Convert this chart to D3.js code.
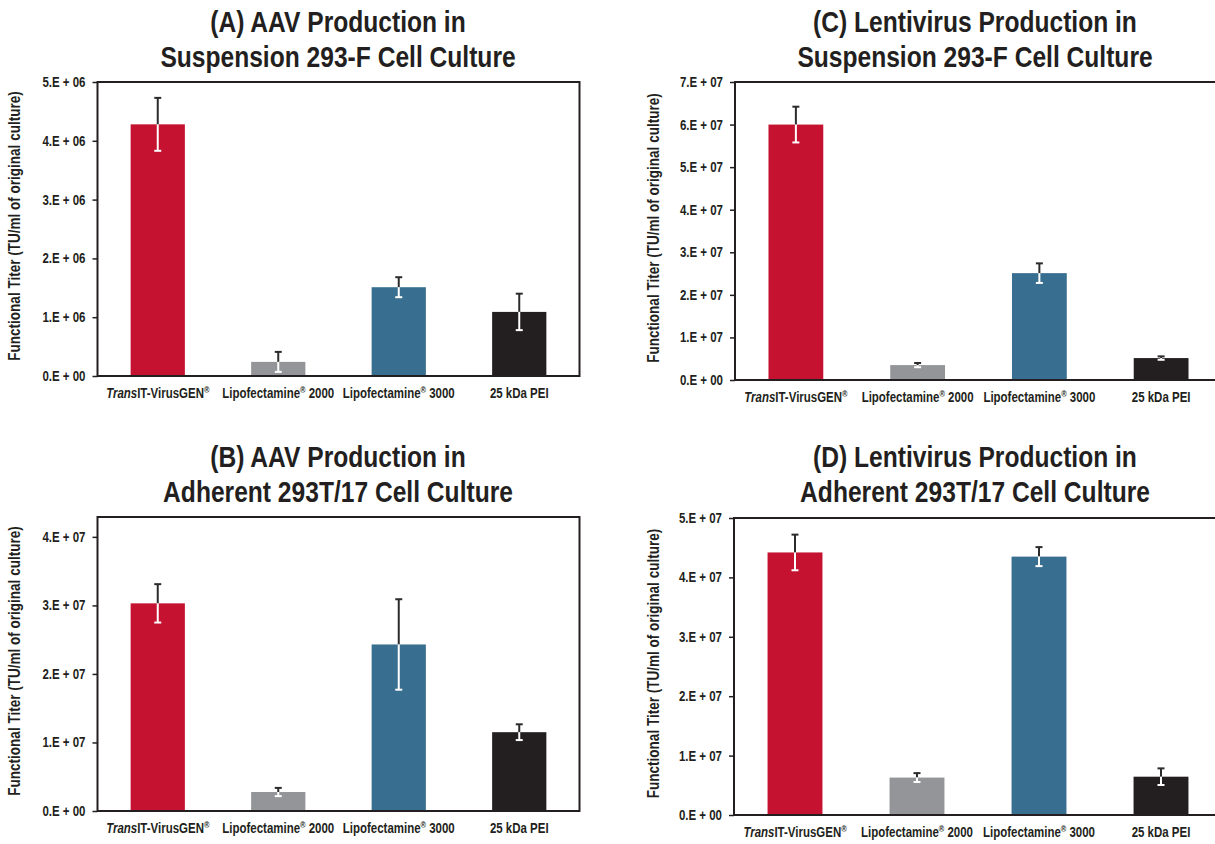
<!DOCTYPE html>
<html>
<head>
<meta charset="utf-8">
<script src="https://cdn.jsdelivr.net/npm/d3@7"></script>
<style>
  body { margin: 0; background: #fff; }
  svg text { font-family: "Liberation Sans", Arial, Helvetica, sans-serif; font-weight: bold; fill: #231f20; }
</style>
</head>
<body>
<div id="chart"></div>
<script>
const categories = ["TransIT-VirusGEN®", "Lipofectamine® 2000", "Lipofectamine® 3000", "25 kDa PEI"];
const barColors = ["#c41230", "#939598", "#386e8f", "#231f20"];

// (A) AAV, suspension 293-F
const aavSuspensionValues = [4.28e6, 0.24e6, 1.51e6, 1.09e6];
const aavSuspensionErrors = [0.45e6, 0.17e6, 0.17e6, 0.31e6];
const aavSuspensionTicks = [0, 1e6, 2e6, 3e6, 4e6, 5e6];
const aavSuspensionTickLabels = ["0.E + 00", "1.E + 06", "2.E + 06", "3.E + 06", "4.E + 06", "5.E + 06"];

// (B) AAV, adherent 293T/17
const aavAdherentValues = [3.03e7, 0.277e7, 2.43e7, 1.15e7];
const aavAdherentErrors = [0.28e7, 0.06e7, 0.66e7, 0.115e7];
const aavAdherentTicks = [0, 1e7, 2e7, 3e7, 4e7];
const aavAdherentTickLabels = ["0.E + 00", "1.E + 07", "2.E + 07", "3.E + 07", "4.E + 07"];

// (C) Lentivirus, suspension 293-F
const lentiSuspensionValues = [6.0e7, 0.35e7, 2.51e7, 0.515e7];
const lentiSuspensionErrors = [0.42e7, 0.05e7, 0.23e7, 0.04e7];
const lentiSuspensionTicks = [0, 1e7, 2e7, 3e7, 4e7, 5e7, 6e7, 7e7];
const lentiSuspensionTickLabels = ["0.E + 00", "1.E + 07", "2.E + 07", "3.E + 07", "4.E + 07", "5.E + 07", "6.E + 07", "7.E + 07"];

// (D) Lentivirus, adherent 293T/17
const lentiAdherentValues = [4.42e7, 0.63e7, 4.35e7, 0.645e7];
const lentiAdherentErrors = [0.30e7, 0.075e7, 0.16e7, 0.14e7];
const lentiAdherentTicks = [0, 1e7, 2e7, 3e7, 4e7, 5e7];
const lentiAdherentTickLabels = ["0.E + 00", "1.E + 07", "2.E + 07", "3.E + 07", "4.E + 07", "5.E + 07"];

const yTitle = "Functional Titer (TU/ml of original culture)";

const width = 1215;
const height = 844;
const narrow = 0.82; // squeeze Liberation Sans to look like a narrow face

const svg = d3.select("#chart").append("svg")
    .attr("width", width)
    .attr("height", height);

const panels = [
    { title: ["(A) AAV Production in", "Suspension 293-F Cell Culture"], values: aavSuspensionValues, errors: aavSuspensionErrors,
      ticks: aavSuspensionTicks, tickLabels: aavSuspensionTickLabels, yMax: 5e6,
      left: 97.5, right: 579.5, top: 82, bottom: 376, titleX: 338, titleY: 32, yTitleX: 20 },
    { title: ["(B) AAV Production in", "Adherent 293T/17 Cell Culture"], values: aavAdherentValues, errors: aavAdherentErrors,
      ticks: aavAdherentTicks, tickLabels: aavAdherentTickLabels, yMax: 4.29e7,
      left: 97.5, right: 579.5, top: 517, bottom: 811, titleX: 338, titleY: 467, yTitleX: 20 },
    { title: ["(C) Lentivirus Production in", "Suspension 293-F Cell Culture"], values: lentiSuspensionValues, errors: lentiSuspensionErrors,
      ticks: lentiSuspensionTicks, tickLabels: lentiSuspensionTickLabels, yMax: 7e7,
      left: 735, right: 1222, top: 82, bottom: 380, titleX: 975, titleY: 32, yTitleX: 659 },
    { title: ["(D) Lentivirus Production in", "Adherent 293T/17 Cell Culture"], values: lentiAdherentValues, errors: lentiAdherentErrors,
      ticks: lentiAdherentTicks, tickLabels: lentiAdherentTickLabels, yMax: 5e7,
      left: 734, right: 1222, top: 518, bottom: 815, titleX: 975, titleY: 467, yTitleX: 659 }
];

// write a category label, with italic "Trans" and superscript ®
function writeLabel(text, label) {
    let rest = label;
    if (rest.startsWith("Trans")) {
        text.append("tspan").style("font-style", "italic").text("Trans");
        rest = rest.slice(5);
    }
    const parts = rest.split("®");
    parts.forEach((p, i) => {
        if (i > 0) {
            text.append("tspan").attr("dy", -5).attr("font-size", "9px").text("®");
            text.append("tspan").attr("dy", 5).text(p);
        } else {
            text.append("tspan").text(p);
        }
    });
}

panels.forEach(p => {
    const g = svg.append("g");

    const x = d3.scaleBand()
        .domain(categories)
        .range([p.left, p.right])
        .paddingInner(0.55)
        .paddingOuter(0.275);

    const y = d3.scaleLinear()
        .domain([0, p.yMax])
        .range([p.bottom, p.top]);

    // title
    p.title.forEach((line, i) => {
        g.append("text")
            .attr("transform", `translate(${p.titleX},${p.titleY + i * 35}) scale(${narrow},1)`)
            .attr("text-anchor", "middle")
            .attr("font-size", "30px")
            .text(line);
    });

    // bars
    g.selectAll(".bar")
        .data(p.values)
        .enter().append("rect")
        .attr("class", "bar")
        .attr("x", (d, i) => x(categories[i]))
        .attr("y", d => y(d))
        .attr("width", x.bandwidth())
        .attr("height", d => y(0) - y(d))
        .attr("fill", (d, i) => barColors[i]);

    // error bars: dark above the bar top, white inside the bar
    p.values.forEach((v, i) => {
        const cx = x(categories[i]) + x.bandwidth() / 2;
        const e = p.errors[i];
        g.append("line")
            .attr("x1", cx).attr("x2", cx)
            .attr("y1", y(v)).attr("y2", y(v + e))
            .attr("stroke", "#2b2b2b").attr("stroke-width", 2);
        g.append("line")
            .attr("x1", cx - 3.5).attr("x2", cx + 3.5)
            .attr("y1", y(v + e)).attr("y2", y(v + e))
            .attr("stroke", "#2b2b2b").attr("stroke-width", 2);
        g.append("line")
            .attr("x1", cx).attr("x2", cx)
            .attr("y1", y(v)).attr("y2", y(v - e))
            .attr("stroke", "#ffffff").attr("stroke-width", 2);
        g.append("line")
            .attr("x1", cx - 3.5).attr("x2", cx + 3.5)
            .attr("y1", y(v - e)).attr("y2", y(v - e))
            .attr("stroke", "#ffffff").attr("stroke-width", 2);
    });

    // frame
    g.append("rect")
        .attr("x", p.left)
        .attr("y", p.top)
        .attr("width", p.right - p.left)
        .attr("height", p.bottom - p.top)
        .attr("fill", "none")
        .attr("stroke", "#231f20")
        .attr("stroke-width", 2);

    // y axis
    const yAxis = d3.axisLeft(y)
        .tickValues(p.ticks)
        .tickFormat((d, i) => p.tickLabels[i])
        .tickSize(5)
        .tickSizeOuter(0);

    const ya = g.append("g")
        .attr("transform", `translate(${p.left},0)`)
        .call(yAxis);
    ya.select(".domain").remove();
    ya.selectAll(".tick line").attr("stroke", "#231f20").attr("stroke-width", 1.5);
    ya.selectAll(".tick text")
        .attr("font-size", "14px")
        .attr("font-family", null)
        .attr("fill", "#231f20")
        .attr("x", -12 / narrow)
        .attr("transform", `scale(${narrow},1)`);

    // x labels
    categories.forEach(c => {
        const t = g.append("text")
            .attr("transform", `translate(${x(c) + x.bandwidth() / 2},${p.bottom + 22}) scale(${narrow},1)`)
            .attr("text-anchor", "middle")
            .attr("font-size", "14px");
        writeLabel(t, c);
    });

    // y title
    g.append("text")
        .attr("transform", `translate(${p.yTitleX},${(p.top + p.bottom) / 2 - 3}) rotate(-90) scale(${narrow},1)`)
        .attr("text-anchor", "middle")
        .attr("font-size", "16.5px")
        .text(yTitle);
});
</script>
</body>
</html>
